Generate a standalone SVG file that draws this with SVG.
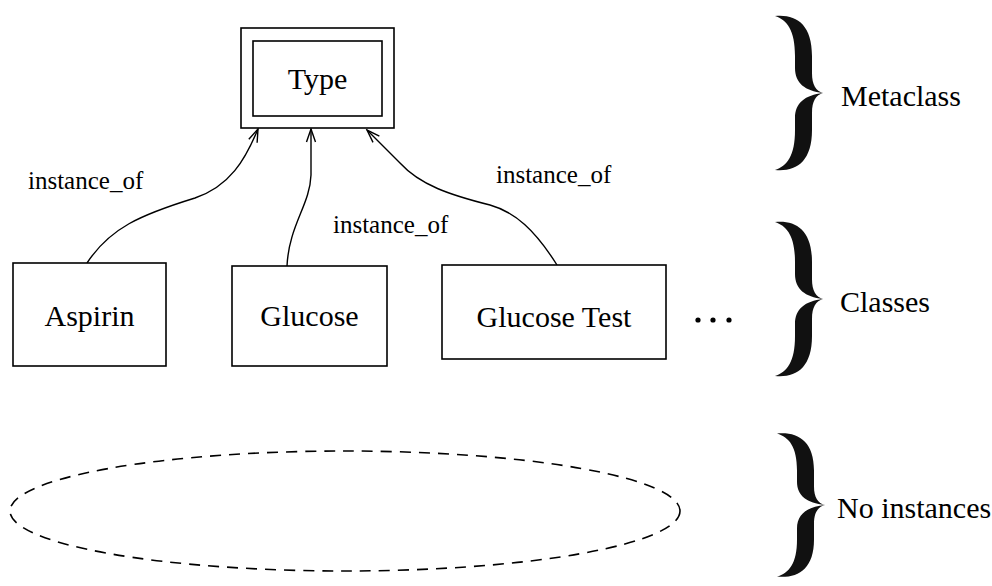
<svg xmlns="http://www.w3.org/2000/svg" xmlns:xlink="http://www.w3.org/1999/xlink" width="992" height="586" viewBox="0 0 992 586">
  <style>
    .box { fill: #fff; stroke: #000; stroke-width: 1.6; }
    .conn { fill: none; stroke: #000; stroke-width: 1.4; }
    text { font-family: 'Liberation Serif', 'Times New Roman', Times, serif; fill: #000; }
    .lbl { font-size: 30px; }
    .small { font-size: 25px; }
    .brace { fill: #111; }
  </style>
  <defs>
    <marker id="openArrow" viewBox="-14 -6 16 12" refX="0" refY="0" markerWidth="16" markerHeight="12" markerUnits="userSpaceOnUse" orient="auto">
      <path d="M-13,-4.5 L0,0 L-13,4.5" fill="none" stroke="#000" stroke-width="1.4"/>
    </marker>
    <!-- right-facing curly brace, point at x=48, centred on y=0 -->
    <path id="braceShape" d="M0,-77 C21,-79 37,-69 37,-37 L37,-20 C37,-8 41,-2 48,0 C41,2 37,8 37,20 L37,37 C37,69 21,79 0,77 C12,73 20,63 20,37 L20,25 C20,10 30,2 48,0 C30,-2 20,-10 20,-25 L20,-37 C20,-63 12,-73 0,-77 Z"/>
  </defs>

  <rect width="992" height="586" fill="#fff"/>

  <!-- connectors -->
  <g id="connectors">
    <path class="conn" d="M87,263 C110,228 140,215 195,198 C230,186 245,160 258,129" marker-end="url(#openArrow)"/>
    <path class="conn" d="M287,266 C289,225 310,205 311,175 L311,129" marker-end="url(#openArrow)"/>
    <path class="conn" d="M557,265 C535,230 515,212 490,205 C450,195 420,185 400,163 L367,130" marker-end="url(#openArrow)"/>
    <text class="small" x="28" y="189">instance_of</text>
    <text class="small" x="333" y="233">instance_of</text>
    <text class="small" x="496" y="183">instance_of</text>
  </g>

  <!-- metaclass node -->
  <g id="type">
    <rect class="box" x="241" y="28" width="153" height="100"/>
    <rect class="box" x="253" y="41" width="129" height="75"/>
    <text class="lbl" x="317.5" y="89" text-anchor="middle">Type</text>
  </g>

  <!-- class nodes -->
  <g id="aspirin">
    <rect class="box" x="13" y="263" width="153" height="103"/>
    <text class="lbl" x="89.5" y="326" text-anchor="middle">Aspirin</text>
  </g>
  <g id="glucose">
    <rect class="box" x="232" y="266" width="155" height="100"/>
    <text class="lbl" x="309.5" y="326" text-anchor="middle">Glucose</text>
  </g>
  <g id="glucose-test">
    <rect class="box" x="442" y="265" width="224" height="94"/>
    <text class="lbl" x="554" y="327" text-anchor="middle">Glucose Test</text>
  </g>
  <g id="more">
    <circle cx="698" cy="320" r="2.6"/>
    <circle cx="713" cy="320" r="2.6"/>
    <circle cx="729" cy="320" r="2.6"/>
  </g>

  <!-- instance level: empty -->
  <g id="instances">
    <ellipse cx="345" cy="511" rx="335" ry="60" fill="none" stroke="#000" stroke-width="1.6" stroke-dasharray="11 8"/>
  </g>

  <!-- level braces and captions -->
  <g id="level-metaclass">
    <use xlink:href="#braceShape" class="brace" transform="translate(775,93)"/>
    <text class="lbl" x="841" y="106">Metaclass</text>
  </g>
  <g id="level-classes">
    <use xlink:href="#braceShape" class="brace" transform="translate(775,299)"/>
    <text class="lbl" x="840" y="312">Classes</text>
  </g>
  <g id="level-instances">
    <use xlink:href="#braceShape" class="brace" transform="translate(777,505) scale(1,0.93)"/>
    <text class="lbl" x="837" y="518">No instances</text>
  </g>
</svg>
